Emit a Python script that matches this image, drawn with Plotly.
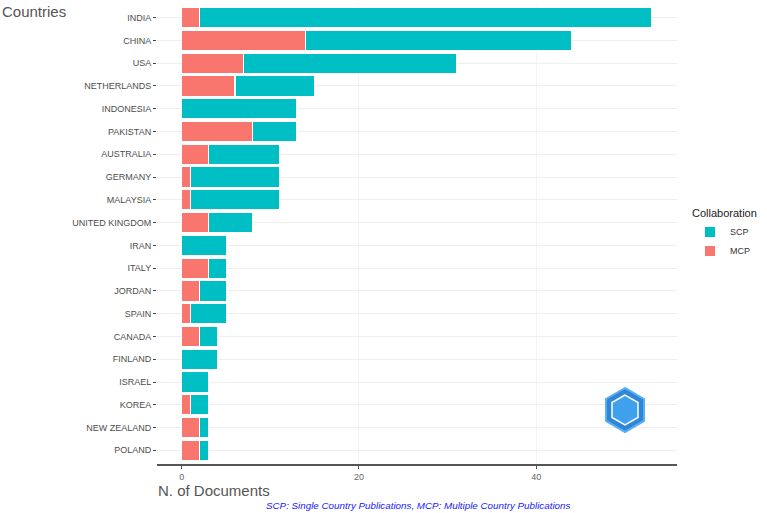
import plotly.graph_objects as go
import math

countries = ["INDIA", "CHINA", "USA", "NETHERLANDS", "INDONESIA", "PAKISTAN", "AUSTRALIA",
             "GERMANY", "MALAYSIA", "UNITED KINGDOM", "IRAN", "ITALY", "JORDAN", "SPAIN",
             "CANADA", "FINLAND", "ISRAEL", "KOREA", "NEW ZEALAND", "POLAND"]
total = [53, 44, 31, 15, 13, 13, 11, 11, 11, 8, 5, 5, 5, 5, 4, 4, 3, 3, 3, 3]
mcp = [2, 14, 7, 6, 0, 8, 3, 1, 1, 3, 0, 3, 2, 1, 2, 0, 0, 1, 2, 2]
scp = [t - m for t, m in zip(total, mcp)]
x_ticks = [0, 20, 40]

fig = go.Figure()
fig.add_trace(go.Bar(y=countries, x=mcp, orientation="h", name="MCP",
                     marker=dict(color="#F8766D", line=dict(color="white", width=1.2)),
                     width=0.9))
fig.add_trace(go.Bar(y=countries, x=scp, orientation="h", name="SCP",
                     marker=dict(color="#00BFC4", line=dict(color="white", width=1.2)),
                     width=0.9))

fig.update_layout(
    barmode="stack",
    width=767, height=513,
    margin=dict(l=157, r=90, t=4, b=49),
    paper_bgcolor="white", plot_bgcolor="white",
    font=dict(family="Liberation Sans, Arial, sans-serif", color="#4d4d4d"),
    bargap=0.1,
    legend=dict(title=dict(text="Collaboration", font=dict(size=11, color="#222")),
                traceorder="reversed", x=1.025, y=0.567, xanchor="left", yanchor="top",
                font=dict(size=9, color="#333"), itemsizing="constant"),
    xaxis=dict(range=[-2.8, 55.9], tickvals=x_ticks, ticktext=[str(v) for v in x_ticks],
               showgrid=True, gridcolor="#f3f3f3", gridwidth=1, zeroline=False,
               showline=True, linecolor="#555555", linewidth=2,
               ticks="outside", ticklen=3, tickcolor="#555555",
               tickfont=dict(size=9, color="#666")),
    yaxis=dict(categoryorder="array", categoryarray=countries[::-1],
               range=[-0.6, len(countries) - 0.4],
               showgrid=True, gridcolor="#eeeeee", gridwidth=1, zeroline=False,
               showline=False, ticks="outside", ticklen=3, tickcolor="#444",
               tickfont=dict(size=9, color="#4d4d4d")),
)

def to_paper(px, py):
    return (px - 157) / 520, 1 - (py - 4) / 460

fig.add_annotation(text="Countries", xref="paper", yref="paper",
                   x=to_paper(0, 11)[0], y=to_paper(0, 11)[1],
                   xanchor="left", yanchor="middle", showarrow=False,
                   font=dict(size=15, color="#555"))
fig.add_annotation(text="N. of Documents", xref="paper", yref="paper",
                   x=to_paper(157, 481)[0], y=to_paper(157, 481)[1],
                   xanchor="left", yanchor="top", showarrow=False, borderpad=0,
                   font=dict(size=15, color="#555"))
fig.add_annotation(text="<i>SCP: Single Country Publications, MCP: Multiple Country Publications</i>",
                   xref="paper", yref="paper",
                   x=to_paper(418, 505)[0], y=to_paper(418, 505)[1],
                   xanchor="center", yanchor="middle", showarrow=False,
                   font=dict(size=9.8, color="#2020ff"))

# logo-like hexagon
cx, cy, r = 625, 410, 22
pts = [(cx + r * math.cos(math.radians(90 + 60 * i)), cy - r * math.sin(math.radians(90 + 60 * i))) for i in range(6)]
path = "M " + " L ".join(f"{to_paper(x, y)[0]:.4f},{to_paper(x, y)[1]:.4f}" for x, y in pts) + " Z"
fig.add_shape(type="path", xref="paper", yref="paper", path=path,
              fillcolor="#2f86d8", line=dict(color="#5ab0f0", width=2))
r2 = 15
pts2 = [(cx + r2 * math.cos(math.radians(90 + 60 * i)), cy - r2 * math.sin(math.radians(90 + 60 * i))) for i in range(6)]
path2 = "M " + " L ".join(f"{to_paper(x, y)[0]:.4f},{to_paper(x, y)[1]:.4f}" for x, y in pts2) + " Z"
fig.add_shape(type="path", xref="paper", yref="paper", path=path2,
              fillcolor="#3fa0ee", line=dict(color="white", width=1.5))

fig.write_html("out.html")
